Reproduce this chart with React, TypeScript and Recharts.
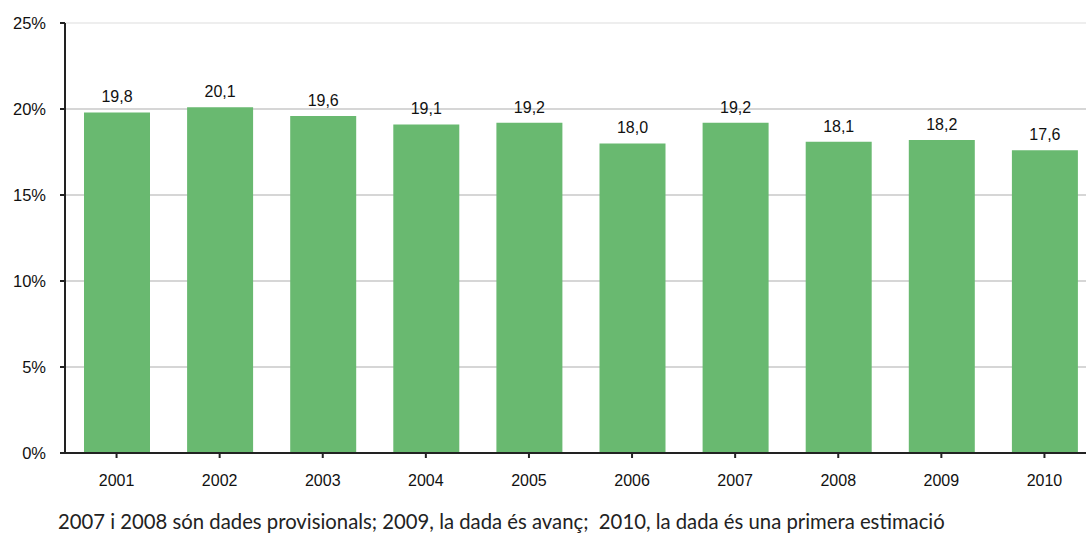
import React from 'react';
import { BarChart, Bar, XAxis, YAxis, CartesianGrid, ReferenceLine, LabelList } from 'recharts';

const years = ['2001', '2002', '2003', '2004', '2005', '2006', '2007', '2008', '2009', '2010'];
const values = [19.8, 20.1, 19.6, 19.1, 19.2, 18.0, 19.2, 18.1, 18.2, 17.6];
const yTicks = [0, 5, 10, 15, 20, 25];
const note = '2007 i 2008 són dades provisionals; 2009, la dada és avanç;  2010, la dada és una primera estimació';

const data = years.map((year, i) => ({ year, value: values[i] }));

const fmt = (v: number) => v.toFixed(1).replace('.', ',');

export default function App() {
  return (
    <div style={{ position: 'absolute', left: 0, top: 0, width: 1086, height: 536, overflow: 'hidden', background: '#fff' }}>
      <BarChart
        width={1110}
        height={500}
        data={data}
        margin={{ top: 23, right: 14, left: 0, bottom: 17 }}
        barCategoryGap="18%"
      >
        <CartesianGrid vertical={false} stroke="#c8c8c8" strokeWidth={1.5} horizontalValues={[5, 10, 15, 20]} />
        <ReferenceLine y={25} stroke="#e8e8e8" strokeWidth={1.5} />
        <XAxis
          dataKey="year"
          height={30}
          stroke="#222"
          strokeWidth={2}
          tickSize={5}
          tickMargin={17}
          tick={{ fill: '#111', fontSize: 16, fontFamily: 'Liberation Sans, Arial, sans-serif' }}
        />
        <YAxis
          width={65}
          domain={[0, 25]}
          ticks={yTicks}
          interval={0}
          tickFormatter={(v: number) => `${v}%`}
          stroke="#222"
          strokeWidth={2}
          tickSize={5}
          tickMargin={14}
          tick={{ fill: '#111', fontSize: 16.5, fontFamily: 'Liberation Sans, Arial, sans-serif' }}
        />
        <Bar dataKey="value" fill="#69b970" barSize={66} isAnimationActive={false}>
          <LabelList
            dataKey="value"
            position="top"
            offset={10}
            formatter={(v: number) => fmt(v)}
            style={{ fill: '#111', fontSize: 16, fontFamily: 'Liberation Sans, Arial, sans-serif' }}
          />
        </Bar>
      </BarChart>
      <div
        style={{
          position: 'absolute',
          left: 58,
          top: 509,
          whiteSpace: 'pre',
          fontFamily: 'Lato, "Open Sans", sans-serif',
          fontSize: 20.3,
          color: '#222',
        }}
      >
        {note}
      </div>
    </div>
  );
}
